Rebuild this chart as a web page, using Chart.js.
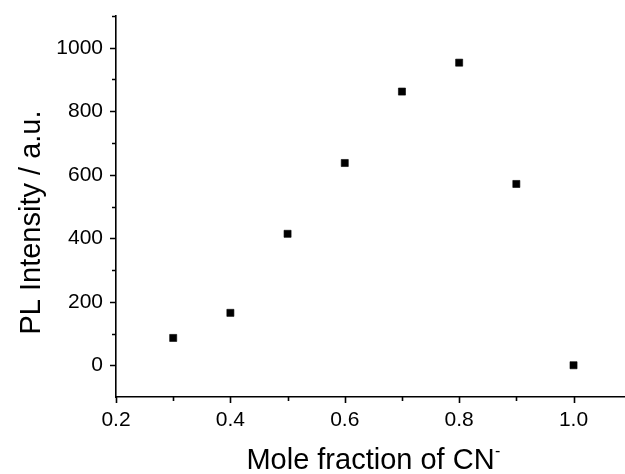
<!DOCTYPE html>
<html>
<head>
<meta charset="utf-8">
<script src="https://cdn.jsdelivr.net/npm/chart.js@4"></script>
<style>
  html, body { margin: 0; padding: 0; background: #fff; }
  #wrap { width: 625px; height: 474px; }
</style>
</head>
<body>
<div id="wrap"><canvas id="chart" width="625" height="474"></canvas></div>
<script>
// values
const moleFraction = [0.3, 0.4, 0.5, 0.6, 0.7, 0.8, 0.9, 1.0];
const plIntensity = [86, 165, 414, 637, 862, 953, 571, 0];

// tick positions (labelled ones are major, the rest minor)
const xTicks = [0.2, 0.3, 0.4, 0.5, 0.6, 0.7, 0.8, 0.9, 1.0];
const xLabels = ['0.2', '', '0.4', '', '0.6', '', '0.8', '', '1.0'];
const yTicks = [-100, 0, 100, 200, 300, 400, 500, 600, 700, 800, 900, 1000, 1100];
const yLabels = ['', '0', '', '200', '', '400', '', '600', '', '800', '', '1000', ''];

const xTitle = 'Mole fraction of CN';
const xTitleSup = '-';
const yTitle = 'PL Intensity / a.u.';

const FONT = "'Liberation Sans', Arial, sans-serif";

// draws the outward tick marks and the two axis titles
const axisDecor = {
    id: 'axisDecor',
    afterDraw(chart) {
        const ctx = chart.ctx;
        const xs = chart.scales.x, ys = chart.scales.y;
        const area = chart.chartArea;
        ctx.save();
        ctx.strokeStyle = '#000';
        ctx.lineWidth = 1.6;
        ctx.beginPath();
        xTicks.forEach((v, i) => {
            const px = Math.round(xs.getPixelForValue(v)) + 0.5;
            const len = xLabels[i] ? 6 : 4;
            ctx.moveTo(px, area.bottom);
            ctx.lineTo(px, area.bottom + len);
        });
        yTicks.forEach((v, i) => {
            if (v === -100) return;
            const py = Math.round(ys.getPixelForValue(v)) + 0.5;
            const len = yLabels[i] ? 6 : 4;
            ctx.moveTo(area.left, py);
            ctx.lineTo(area.left - len, py);
        });
        ctx.stroke();

        // x title with superscript minus
        ctx.fillStyle = '#000';
        ctx.font = '29px ' + FONT;
        ctx.textBaseline = 'alphabetic';
        const w = ctx.measureText(xTitle).width;
        const cx = (area.left + area.right) / 2;
        const x0 = cx - w / 2;
        ctx.textAlign = 'left';
        ctx.fillText(xTitle, x0, 469);
        ctx.font = '16px ' + FONT;
        ctx.fillText(xTitleSup, x0 + w + 0.5, 456);

        // y title, rotated
        ctx.font = '29px ' + FONT;
        ctx.translate(39.5, 222.5);
        ctx.rotate(-Math.PI / 2);
        ctx.textAlign = 'center';
        ctx.fillText(yTitle, 0, 0);
        ctx.restore();
    }
};

function noPad(s) {
    s.paddingTop = 0;
    s.paddingBottom = 0;
    s.paddingLeft = 0;
    s.paddingRight = 0;
}

const ctx = document.getElementById('chart').getContext('2d');
const myChart = new Chart(ctx, {
    type: 'scatter',
    data: {
        datasets: [{
            label: 'PL',
            data: moleFraction.map((x, i) => ({ x: x, y: plIntensity[i] })),
            pointStyle: 'rect',
            pointRadius: 5,
            pointHoverRadius: 5,
            backgroundColor: '#000',
            borderColor: '#000',
            borderWidth: 0.6,
            showLine: false
        }]
    },
    options: {
        responsive: false,
        animation: false,
        layout: { autoPadding: false, padding: { top: 16, right: 0, bottom: 0, left: 0 } },
        plugins: {
            legend: { display: false },
            tooltip: { enabled: false }
        },
        scales: {
            x: {
                type: 'linear',
                min: 0.2,
                max: 1.09,
                afterBuildTicks: s => { s.ticks = xTicks.map(v => ({ value: v })); },
                afterFit: s => { s.height = 77; noPad(s); },
                grid: { display: true, drawOnChartArea: false, drawTicks: false },
                border: { display: true, color: '#000', width: 1.6 },
                ticks: {
                    color: '#000',
                    padding: 11,
                    maxRotation: 0,
                    autoSkip: false,
                    font: { family: FONT, size: 21 },
                    callback: (v, i) => xLabels[i]
                }
            },
            y: {
                type: 'linear',
                min: -100,
                max: 1100,
                afterBuildTicks: s => { s.ticks = yTicks.map(v => ({ value: v })); },
                afterFit: s => { s.width = 116; noPad(s); },
                grid: { display: true, drawOnChartArea: false, drawTicks: false },
                border: { display: true, color: '#000', width: 1.6 },
                ticks: {
                    color: '#000',
                    padding: 13,
                    autoSkip: false,
                    font: { family: FONT, size: 21 },
                    callback: (v, i) => yLabels[i]
                }
            }
        }
    },
    plugins: [axisDecor]
});
</script>
</body>
</html>
